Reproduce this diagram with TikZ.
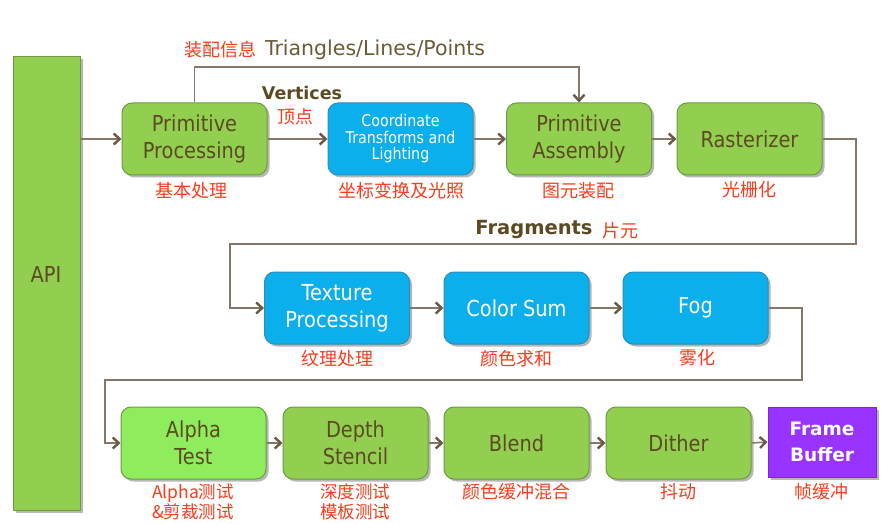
\documentclass[tikz,border=0pt]{standalone}
\usepackage{fontspec}
\setmainfont{DejaVu Sans}
\newfontfamily\boxfont[FakeStretch=0.88]{DejaVu Sans}
\newfontfamily\cjkfont{Noto Sans CJK SC}
\usetikzlibrary{arrows.meta,shadows}
\definecolor{boxgreen}{HTML}{92CF50}
\definecolor{lightgreen}{HTML}{8FEC5C}
\definecolor{greenedge}{HTML}{6E9A45}
\definecolor{boxblue}{HTML}{0BAFEB}
\definecolor{blueedge}{HTML}{2E8DBB}
\definecolor{fbpurple}{HTML}{9933FF}
\definecolor{txtbrown}{HTML}{5B4A22}
\definecolor{connc}{HTML}{85786A}
\definecolor{tipc}{HTML}{6B5A45}
\definecolor{labred}{HTML}{F83C1C}
\tikzset{
  basebox/.style={minimum width=145pt, minimum height=72pt, inner sep=0pt,
    rounded corners=10pt, line width=1pt, align=center,
    drop shadow={shadow xshift=2.5pt, shadow yshift=-2.5pt, opacity=0.4, fill=black!70},
    font=\boxfont\fontsize{22}{27}\selectfont},
  gbox/.style={basebox, fill=boxgreen, draw=greenedge, text=txtbrown},
  lgbox/.style={basebox, fill=lightgreen, draw=greenedge, text=txtbrown},
  bbox/.style={basebox, fill=boxblue, draw=blueedge, text=white},
  lab/.style={font=\cjkfont\fontsize{18}{20}\selectfont, text=labred, inner sep=0pt, align=center},
  conn/.style={draw=connc, line width=1.5pt, -{Straight Barb[length=6pt,width=11pt,line width=2.4pt,color=tipc]}},
}
\begin{document}
\begin{tikzpicture}[x=1pt,y=-1pt]
\useasboundingbox[fill=white] (0,0) rectangle (895,524);

% API
\node[gbox, rounded corners=0pt, minimum width=67pt, minimum height=453pt] (api) at (46.5,283.5) {};
\node[text=txtbrown, font=\boxfont\fontsize{22}{27}\selectfont, inner sep=0pt] (apit) at (46,274) {API};

% row 1
\node[gbox] (pp) at (194.5,139) {Primitive\\Processing};
\node[bbox, font=\boxfont\fontsize{16.2}{16.5}\selectfont] (ct) at (400.5,139) {Coordinate\\Transforms and\\Lighting};
\node[gbox] (pa) at (579,139) {Primitive\\Assembly};
\node[gbox] (ras) at (749.5,139) {Rasterizer};

% row 2
\node[bbox] (tex) at (337,308) {Texture\\Processing};
\node[bbox] (cs) at (516.5,308) {\raisebox{-2pt}{Color Sum}};
\node[bbox] (fog) at (695.5,308) {\raisebox{-3pt}{Fog}};

% row 3
\node[lgbox] (alpha) at (193.5,443) {Alpha\\Test};
\node[gbox] (depth) at (355.5,443) {Depth\\Stencil};
\node[gbox] (blend) at (516.5,443) {Blend};
\node[gbox] (dither) at (678.5,443) {Dither};
\node[basebox, rounded corners=0pt, fill=fbpurple, draw=fbpurple!80!black, text=white,
  minimum width=108pt, minimum height=70pt, font=\bfseries\fontsize{18.5}{26}\selectfont] (fb) at (822,442) {Frame\\Buffer};

% red labels
\node[lab] (lpp) at (191,191) {基本处理};
\node[lab] (lct) at (401,191) {坐标变换及光照};
\node[lab] (lpa) at (578,191) {图元装配};
\node[lab] (lras) at (749,190) {光栅化};
\node[lab] (ltex) at (337,359) {纹理处理};
\node[lab] (lcs) at (516,359) {颜色求和};
\node[lab] (lfog) at (697,358) {雾化};
\node[lab, font=\cjkfont\fontsize{17.5}{19.5}\selectfont] (lalpha) at (193,502) {Alpha测试\\\&剪裁测试};
\node[lab, font=\cjkfont\fontsize{17.5}{19.5}\selectfont] (ldepth) at (355,502) {深度测试\\模板测试};
\node[lab] (lblend) at (516,492) {颜色缓冲混合};
\node[lab] (ldither) at (678,492) {抖动};
\node[lab] (lfb) at (821,492) {帧缓冲};

% top labels
\node[lab] (lzp) at (220,50) {装配信息};
\node[text=txtbrown!90, font=\fontsize{20.5}{24}\selectfont, inner sep=0pt] (tlp) at (375,50) {Triangles/Lines/Points};
\node[text=txtbrown, font=\bfseries\fontsize{17.5}{20}\selectfont, inner sep=0pt] (vert) at (302,93) {Vertices};
\node[lab] (ldd) at (295,117) {顶点};
\node[text=txtbrown, font=\bfseries\fontsize{19.5}{22}\selectfont, inner sep=0pt] (frag) at (534,229) {Fragments};
\node[lab] (lpy) at (620,231) {片元};

% connectors row 1
\draw[conn] (api.east |- pp.west) -- (pp.west);
\draw[conn] (pp.east) -- (ct.west);
\draw[conn] (ct.east) -- (pa.west);
\draw[conn] (pa.east) -- (ras.west);
\coordinate (t1) at (194.5,67);
\coordinate (t2) at (579,67);
\draw[conn] (pp.north) -- (t1) -- (t2) -- (pa.north);

% raster -> texture
\coordinate (r1) at (856,244);
\coordinate (r2) at (230,244);
\draw[conn] (ras.east) -| (r1) -- (r2) |- (tex.west);
\draw[conn] (tex.east) -- (cs.west);
\draw[conn] (cs.east) -- (fog.west);

% fog -> alpha
\coordinate (f1) at (802,380);
\coordinate (f2) at (105,380);
\draw[conn] (fog.east) -| (f1) -- (f2) |- (alpha.west);
\draw[conn] (alpha.east) -- (depth.west);
\draw[conn] (depth.east) -- (blend.west);
\draw[conn] (blend.east) -- (dither.west);
\draw[conn] (dither.east) -- (fb.west);
\end{tikzpicture}
\end{document}
